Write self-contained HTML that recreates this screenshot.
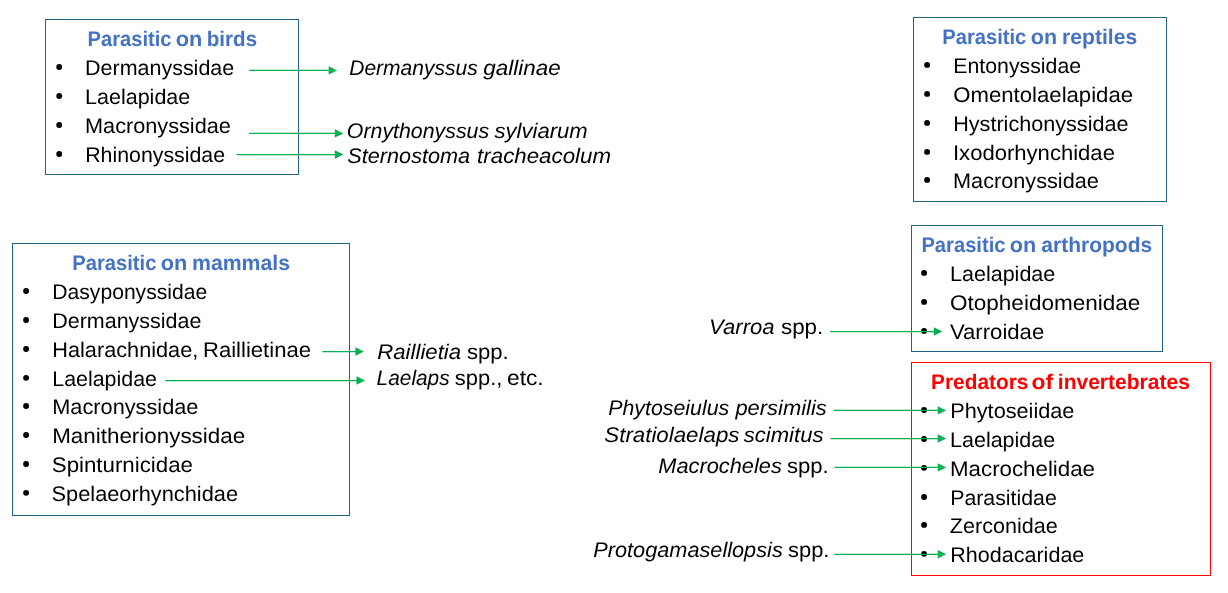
<!DOCTYPE html>
<html><head><meta charset="utf-8"><style>
html,body{margin:0;padding:0;background:#fff;}
body{width:1228px;height:593px;position:relative;overflow:hidden;}
.box{position:absolute;border:1px solid;box-sizing:content-box;}
.t,.r{position:absolute;left:0;top:0;white-space:nowrap;font-family:"Liberation Sans",sans-serif;transform-origin:0 0;text-rendering:geometricPrecision;}
.r{font-size:21.2px;line-height:21.2px;color:#000;filter:grayscale(1);}
.t{font-size:21.2px;line-height:21.2px;font-weight:bold;color:#4472C4;filter:saturate(1.0001);}
.t.red{color:#FF0000;}
</style></head><body>
<div class="box" style="left:45px;top:19px;width:252px;height:154px;border-color:#1f6488"></div><div class="box" style="left:913px;top:17px;width:252px;height:183px;border-color:#1f6488"></div><div class="box" style="left:12px;top:243px;width:336px;height:271px;border-color:#1f6488"></div><div class="box" style="left:911px;top:225px;width:250px;height:125px;border-color:#1f6488"></div><div class="box" style="left:911px;top:362px;width:298px;height:212px;border-color:#FF0000"></div><svg width="1228" height="593" style="position:absolute;left:0;top:0"><circle cx="59.2" cy="66.95" r="2.95" fill="#000"/><circle cx="59.2" cy="95.95" r="2.95" fill="#000"/><circle cx="59.2" cy="124.95" r="2.95" fill="#000"/><circle cx="59.2" cy="153.95" r="2.95" fill="#000"/><circle cx="927.1" cy="64.90" r="2.95" fill="#000"/><circle cx="927.1" cy="93.90" r="2.95" fill="#000"/><circle cx="927.1" cy="122.90" r="2.95" fill="#000"/><circle cx="927.1" cy="151.90" r="2.95" fill="#000"/><circle cx="927.1" cy="179.90" r="2.95" fill="#000"/><circle cx="26.1" cy="290.95" r="2.95" fill="#000"/><circle cx="26.1" cy="319.95" r="2.95" fill="#000"/><circle cx="26.1" cy="348.95" r="2.95" fill="#000"/><circle cx="26.1" cy="377.87" r="2.95" fill="#000"/><circle cx="26.1" cy="405.95" r="2.95" fill="#000"/><circle cx="26.1" cy="434.95" r="2.95" fill="#000"/><circle cx="26.1" cy="463.95" r="2.95" fill="#000"/><circle cx="26.1" cy="492.87" r="2.95" fill="#000"/><circle cx="924.1" cy="272.90" r="2.95" fill="#000"/><circle cx="924.1" cy="301.90" r="2.95" fill="#000"/><circle cx="924.1" cy="330.90" r="2.95" fill="#000"/><circle cx="924.1" cy="410.00" r="2.95" fill="#000"/><circle cx="924.1" cy="438.95" r="2.95" fill="#000"/><circle cx="924.1" cy="467.85" r="2.95" fill="#000"/><circle cx="924.1" cy="496.95" r="2.95" fill="#000"/><circle cx="924.1" cy="524.90" r="2.95" fill="#000"/><circle cx="924.1" cy="553.85" r="2.95" fill="#000"/><line x1="249.2" y1="70.4" x2="329.7" y2="70.4" stroke="#00B050" stroke-width="1.25"/><path d="M328.7 66.2 L337.2 70.4 L328.7 74.6 Z" fill="#00B050"/><line x1="249.2" y1="133.4" x2="335.8" y2="133.4" stroke="#00B050" stroke-width="1.25"/><path d="M334.8 129.2 L343.3 133.4 L334.8 137.6 Z" fill="#00B050"/><line x1="236.5" y1="154.5" x2="335.8" y2="154.5" stroke="#00B050" stroke-width="1.25"/><path d="M334.8 150.3 L343.3 154.5 L334.8 158.7 Z" fill="#00B050"/><line x1="322.4" y1="351.5" x2="356.4" y2="351.5" stroke="#00B050" stroke-width="1.25"/><path d="M355.4 347.3 L363.9 351.5 L355.4 355.7 Z" fill="#00B050"/><line x1="165.3" y1="380.5" x2="357.5" y2="380.5" stroke="#00B050" stroke-width="1.25"/><path d="M356.5 376.3 L365.0 380.5 L356.5 384.7 Z" fill="#00B050"/><line x1="830.2" y1="331.5" x2="934.8" y2="331.5" stroke="#00B050" stroke-width="1.25"/><path d="M933.8 327.3 L942.3 331.5 L933.8 335.7 Z" fill="#00B050"/><line x1="833.6" y1="410.4" x2="938.7" y2="410.4" stroke="#00B050" stroke-width="1.25"/><path d="M937.7 406.2 L946.2 410.4 L937.7 414.6 Z" fill="#00B050"/><line x1="830.4" y1="438.5" x2="938.7" y2="438.5" stroke="#00B050" stroke-width="1.25"/><path d="M937.7 434.3 L946.2 438.5 L937.7 442.7 Z" fill="#00B050"/><line x1="834.6" y1="467.4" x2="938.7" y2="467.4" stroke="#00B050" stroke-width="1.25"/><path d="M937.7 463.2 L946.2 467.4 L937.7 471.6 Z" fill="#00B050"/><line x1="834.4" y1="554.3" x2="938.7" y2="554.3" stroke="#00B050" stroke-width="1.25"/><path d="M937.7 550.1 L946.2 554.3 L937.7 558.5 Z" fill="#00B050"/></svg>
<div class="t" style="transform:translate(87.476px,28.90px) scaleX(0.95123)">Parasitic</div><div class="t" style="transform:translate(175.808px,28.90px) scaleX(1.02492)">on</div><div class="t" style="transform:translate(206.773px,28.90px) scaleX(0.97117)">birds</div><div class="r" style="transform:translate(85.108px,57.90px) scaleX(1.01287)">Dermanyssidae</div><div class="r" style="transform:translate(85.063px,86.90px) scaleX(1.01455)">Laelapidae</div><div class="r" style="transform:translate(85.047px,115.90px) scaleX(1.02323)">Macronyssidae</div><div class="r" style="transform:translate(85.183px,144.90px) scaleX(1.00650)">Rhinonyssidae</div><div class="r" style="transform:translate(349.212px,57.75px) scaleX(0.99217)"><i>Dermanyssus</i></div><div class="r" style="transform:translate(483.266px,57.75px) scaleX(1.05917)"><i>gallinae</i></div><div class="r" style="transform:translate(346.811px,120.60px) scaleX(1.00696)"><i>Ornythonyssus</i></div><div class="r" style="transform:translate(494.448px,120.60px) scaleX(1.04322)"><i>sylviarum</i></div><div class="r" style="transform:translate(347.313px,146.30px) scaleX(1.02228)"><i>Sternostoma</i></div><div class="r" style="transform:translate(477.119px,146.30px) scaleX(1.05227)"><i>tracheacolum</i></div><div class="t" style="transform:translate(942.295px,26.90px) scaleX(0.95118)">Parasitic</div><div class="t" style="transform:translate(1030.814px,26.90px) scaleX(1.01345)">on</div><div class="t" style="transform:translate(1062.091px,26.90px) scaleX(0.99639)">reptiles</div><div class="r" style="transform:translate(953.341px,55.90px) scaleX(1.00420)">Entonyssidae</div><div class="r" style="transform:translate(953.274px,84.90px) scaleX(1.04549)">Omentolaelapidae</div><div class="r" style="transform:translate(953.205px,113.90px) scaleX(1.01977)">Hystrichonyssidae</div><div class="r" style="transform:translate(952.987px,142.90px) scaleX(1.04147)">Ixodorhynchidae</div><div class="r" style="transform:translate(953.047px,170.90px) scaleX(1.02323)">Macronyssidae</div><div class="t" style="transform:translate(72.292px,252.85px) scaleX(0.95234)">Parasitic</div><div class="t" style="transform:translate(160.808px,252.85px) scaleX(1.02492)">on</div><div class="t" style="transform:translate(191.970px,252.85px) scaleX(1.00377)">mammals</div><div class="r" style="transform:translate(52.354px,281.90px) scaleX(0.99576)">Dasyponyssidae</div><div class="r" style="transform:translate(52.184px,310.90px) scaleX(1.01391)">Dermanyssidae</div><div class="r" style="transform:translate(52.259px,339.90px) scaleX(1.02456)">Halarachnidae,</div><div class="r" style="transform:translate(202.992px,339.90px) scaleX(1.04197)">Raillietinae</div><div class="r" style="transform:translate(52.246px,368.85px) scaleX(1.00971)">Laelapidae</div><div class="r" style="transform:translate(52.273px,396.90px) scaleX(1.02549)">Macronyssidae</div><div class="r" style="transform:translate(52.127px,425.90px) scaleX(1.05757)">Manitherionyssidae</div><div class="r" style="transform:translate(51.764px,454.90px) scaleX(1.05161)">Spinturnicidae</div><div class="r" style="transform:translate(51.538px,483.85px) scaleX(1.02796)">Spelaeorhynchidae</div><div class="r" style="transform:translate(377.242px,342.00px) scaleX(1.04718)"><i>Raillietia</i></div><div class="r" style="transform:translate(466.947px,342.00px) scaleX(1.04177)">spp.</div><div class="r" style="transform:translate(376.608px,367.85px) scaleX(0.98386)"><i>Laelaps</i></div><div class="r" style="transform:translate(454.830px,367.85px) scaleX(1.03500)">spp.,</div><div class="r" style="transform:translate(507.015px,367.85px) scaleX(1.07367)">etc.</div><div class="t" style="transform:translate(921.410px,234.90px) scaleX(0.95162)">Parasitic</div><div class="t" style="transform:translate(1009.806px,234.90px) scaleX(1.02044)">on</div><div class="t" style="transform:translate(1041.368px,234.90px) scaleX(0.99066)">arthropods</div><div class="r" style="transform:translate(950.063px,263.90px) scaleX(1.01455)">Laelapidae</div><div class="r" style="transform:translate(950.064px,292.90px) scaleX(1.06207)">Otopheidomenidae</div><div class="r" style="transform:translate(949.916px,321.90px) scaleX(1.04441)">Varroidae</div><div class="r" style="transform:translate(709.015px,316.85px) scaleX(1.04436)"><i>Varroa</i></div><div class="r" style="transform:translate(780.942px,316.85px) scaleX(1.05603)">spp.</div><div class="t red" style="transform:translate(931.053px,371.85px) scaleX(0.98367)">Predators</div><div class="t red" style="transform:translate(1031.589px,371.85px) scaleX(1.07659)">of</div><div class="t red" style="transform:translate(1057.789px,371.85px) scaleX(0.99246)">invertebrates</div><div class="r" style="transform:translate(950.246px,400.90px) scaleX(1.02341)">Phytoseiidae</div><div class="r" style="transform:translate(950.088px,429.90px) scaleX(1.01299)">Laelapidae</div><div class="r" style="transform:translate(950.013px,458.80px) scaleX(1.05236)">Macrochelidae</div><div class="r" style="transform:translate(950.176px,487.90px) scaleX(1.00590)">Parasitidae</div><div class="r" style="transform:translate(949.866px,515.90px) scaleX(1.01671)">Zerconidae</div><div class="r" style="transform:translate(950.208px,544.80px) scaleX(1.01672)">Rhodacaridae</div><div class="r" style="transform:translate(608.237px,397.80px) scaleX(1.00716)"><i>Phytoseiulus</i></div><div class="r" style="transform:translate(735.409px,397.80px) scaleX(1.03430)"><i>persimilis</i></div><div class="r" style="transform:translate(604.303px,424.60px) scaleX(1.05266)"><i>Stratiolaelaps</i></div><div class="r" style="transform:translate(743.783px,424.60px) scaleX(1.04100)"><i>scimitus</i></div><div class="r" style="transform:translate(658.247px,455.80px) scaleX(1.02872)"><i>Macrocheles</i></div><div class="r" style="transform:translate(786.927px,455.80px) scaleX(1.04403)">spp.</div><div class="r" style="transform:translate(593.286px,539.85px) scaleX(1.02461)"><i>Protogamasellopsis</i></div><div class="r" style="transform:translate(788.034px,539.85px) scaleX(1.03390)">spp.</div>
</body></html>
